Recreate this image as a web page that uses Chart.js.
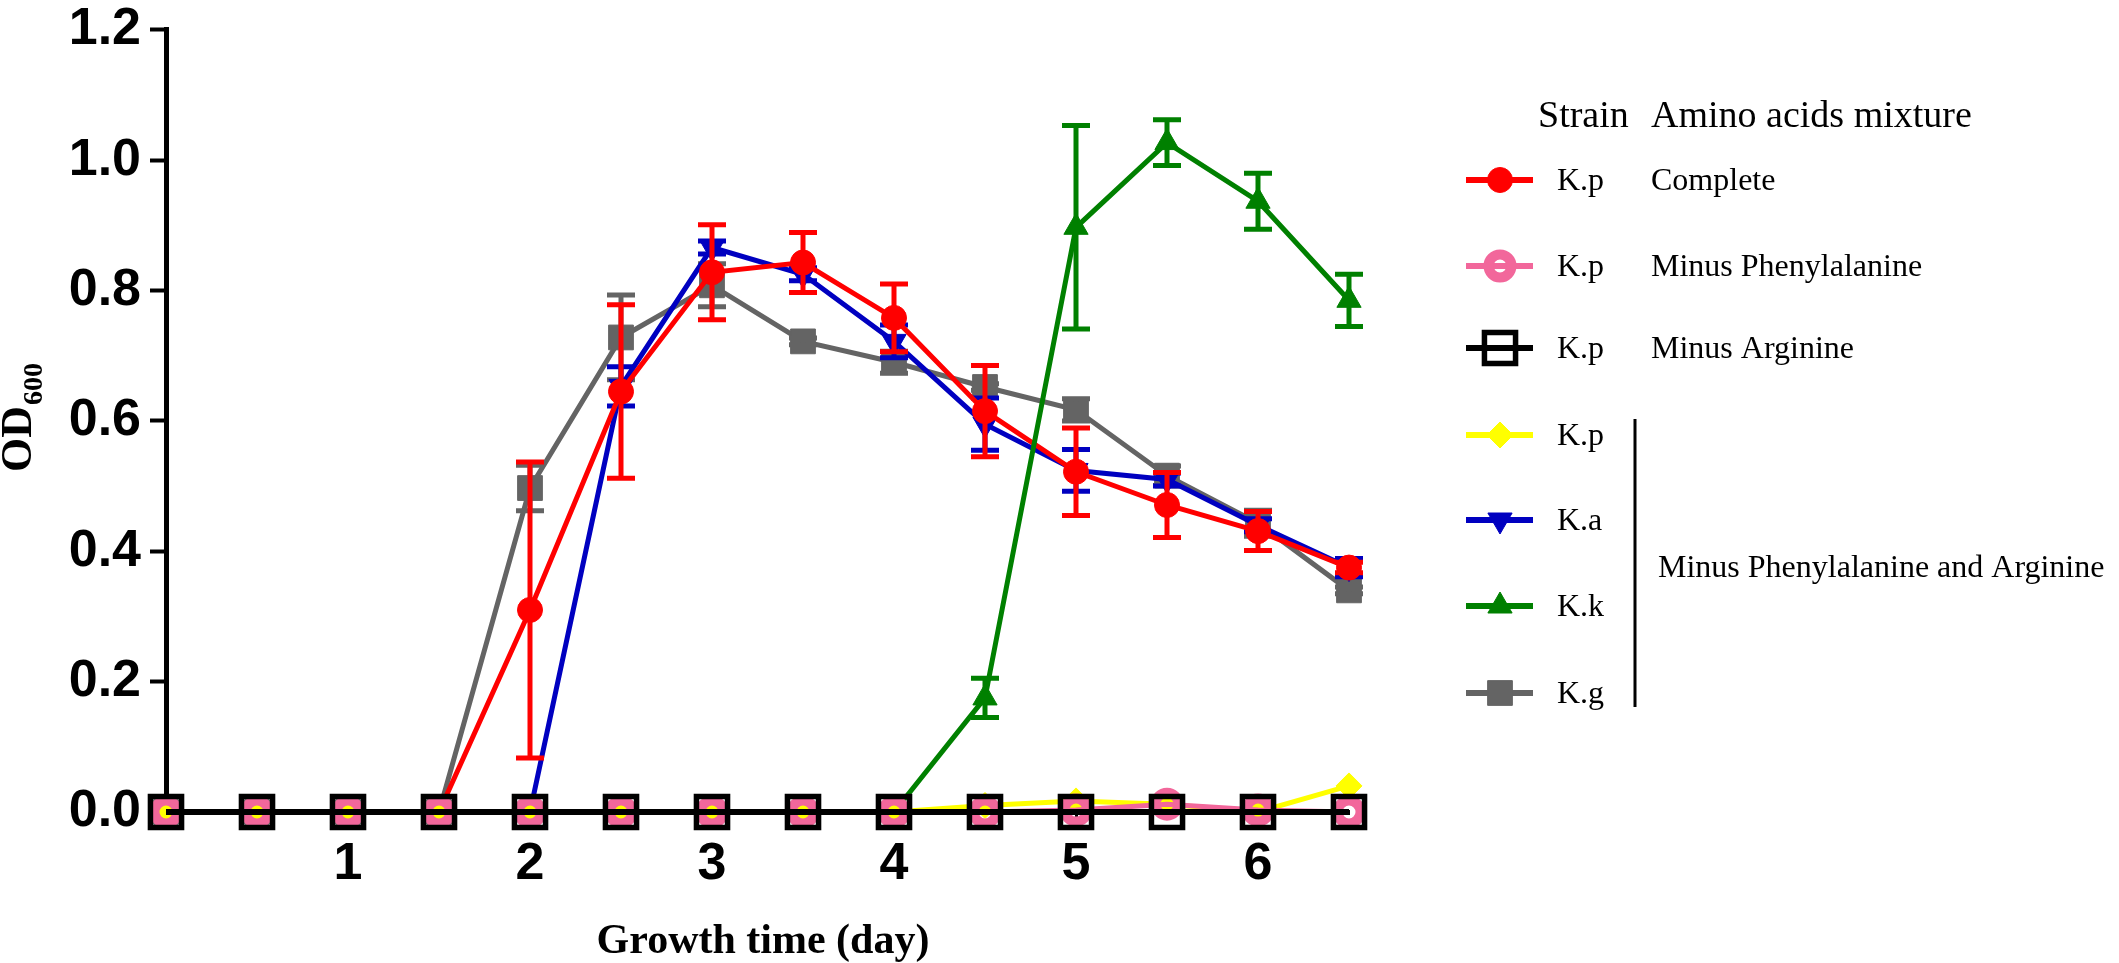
<!DOCTYPE html>
<html><head><meta charset="utf-8">
<script src="https://cdn.jsdelivr.net/npm/chart.js@4.4.1/dist/chart.umd.min.js"></script>
<style>html,body{margin:0;padding:0;background:#fff;overflow:hidden}canvas{display:block}</style>
</head><body>
<canvas id="c" width="2119" height="963" style="width:2119px;height:963px"></canvas>
<script>
// ---- data ----
const days = [0, 0.5, 1, 1.5, 2, 2.5, 3, 3.5, 4, 4.5, 5, 5.5, 6, 6.5];
const xTickValues = [1, 2, 3, 4, 5, 6];
const yTickValues = [0, 0.2, 0.4, 0.6, 0.8, 1.0, 1.2];

const kpComplete      = [0, 0, 0, 0, 0.310, 0.645, 0.828, 0.843, 0.758, 0.615, 0.522, 0.471, 0.431, 0.375];
const kpCompleteErr   = [0, 0, 0, 0, 0.227, 0.133, 0.073, 0.046, 0.052, 0.070, 0.067, 0.050, 0.030, 0.008];
const kpMinusPhe      = [0, 0, 0, 0, 0, 0, 0, 0, 0, 0, 0.003, 0.012, 0.003, 0];
const kpMinusArg      = [0, 0, 0, 0, 0, 0, 0, 0, 0, 0, 0, 0, 0, 0];
const kpMinusPheArg   = [0, 0, 0, 0, 0, 0, 0, 0, 0, 0.010, 0.017, 0.012, 0.000, 0.040];
const kaMinusPheArg   = [0, 0, 0, 0, 0, 0.653, 0.866, 0.825, 0.722, 0.595, 0.524, 0.510, 0.440, 0.375];
const kaMinusPheArgErr= [0, 0, 0, 0, 0, 0.030, 0.010, 0.010, 0.025, 0.040, 0.032, 0.010, 0.010, 0.014];
const kkMinusPheArg   = [0, 0, 0, 0, 0, 0, 0, 0, 0, 0.175, 0.897, 1.027, 0.937, 0.785];
const kkMinusPheArgErr= [0, 0, 0, 0, 0, 0, 0, 0, 0, 0.030, 0.156, 0.035, 0.043, 0.040];
const kgMinusPheArg   = [0, 0, 0, 0, 0.497, 0.728, 0.808, 0.722, 0.690, 0.652, 0.617, 0.516, 0.443, 0.340];
const kgMinusPheArgErr= [0, 0, 0, 0, 0.035, 0.065, 0.033, 0.005, 0.017, 0.005, 0.017, 0.015, 0.020, 0.005];

const seriesStrain  = ['K.p', 'K.p', 'K.p', 'K.p', 'K.a', 'K.k', 'K.g'];
const seriesMixture = ['Complete', 'Minus Phenylalanine', 'Minus Arginine', '', '', '', ''];
const legendHeader  = ['Strain', 'Amino acids mixture'];
const groupLabel    = 'Minus Phenylalanine and Arginine';
const xTitle = 'Growth time (day)';
const yTitleMain = 'OD', yTitleSub = '600';

// ---- build ----
const pts = arr => days.map((d, i) => ({x: d, y: arr[i]}));
function series(values, errs, color, style, radius, order, extra) {
  return Object.assign({
    data: pts(values), errors: errs,
    borderColor: color, backgroundColor: color, borderWidth: 5,
    pointStyle: style, pointRadius: radius, pointHoverRadius: radius,
    pointBackgroundColor: color, pointBorderColor: color, pointBorderWidth: 1,
    pointRotation: 0, order: order, clip: false, tension: 0
  }, extra || {});
}
const datasets = [
  series(kpComplete, kpCompleteErr, '#FF0000', 'circle', 12.5, 4),
  series(kpMinusPhe, null, '#F2679B', 'circle', 11.5, 1, {pointBackgroundColor: 'rgba(0,0,0,0)', pointBorderWidth: 10}),
  series(kpMinusArg, null, '#000000', 'rect', 22, 0, {borderWidth: 6, pointBackgroundColor: 'rgba(0,0,0,0)', pointBorderWidth: 5.5}),
  series(kpMinusPheArg, null, '#FFFF00', 'rectRot', 13, 2),
  series(kaMinusPheArg, kaMinusPheArgErr, '#0000C0', 'triangle', 14, 5, {pointRotation: 180}),
  series(kkMinusPheArg, kkMinusPheArgErr, '#008000', 'triangle', 14, 3),
  series(kgMinusPheArg, kgMinusPheArgErr, '#646464', 'rect', 17.5, 6)
];

const errorBars = {
  id: 'errorBars',
  afterDatasetDraw(chart, args) {
    const ds = chart.data.datasets[args.index];
    if (!ds.errors) return;
    const ctx = chart.ctx, xs = chart.scales.x, ys = chart.scales.y;
    ctx.save();
    ctx.strokeStyle = ds.borderColor; ctx.lineWidth = 5; ctx.lineCap = 'butt';
    ds.data.forEach((p, j) => {
      const e = ds.errors[j];
      if (!e) return;
      const px = xs.getPixelForValue(p.x);
      const t = ys.getPixelForValue(p.y + e), b = ys.getPixelForValue(p.y - e);
      ctx.beginPath();
      ctx.moveTo(px, t); ctx.lineTo(px, b);
      ctx.moveTo(px - 14, t); ctx.lineTo(px + 14, t);
      ctx.moveTo(px - 14, b); ctx.lineTo(px + 14, b);
      ctx.stroke();
    });
    ctx.restore();
  }
};

function marker(ctx, ds, x, y) {
  ctx.fillStyle = ds.pointBackgroundColor;
  ctx.strokeStyle = ds.pointBorderColor;
  ctx.lineWidth = ds.pointBorderWidth;
  Chart.helpers.drawPoint(ctx, {pointStyle: ds.pointStyle, rotation: ds.pointRotation, radius: ds.pointRadius, borderWidth: ds.pointBorderWidth}, x, y);
}

const decorations = {
  id: 'decorations',
  afterDraw(chart) {
    const ctx = chart.ctx;
    ctx.save();
    ctx.fillStyle = '#000';
    ctx.textBaseline = 'alphabetic';
    // x title
    ctx.font = 'bold 42px "Liberation Serif"';
    ctx.textAlign = 'center';
    ctx.fillText(xTitle, 763, 953);
    // y title (rotated, with subscript)
    ctx.save();
    ctx.translate(31, 472);
    ctx.rotate(-Math.PI / 2);
    ctx.textAlign = 'left';
    ctx.font = 'bold 44px "Liberation Serif"';
    ctx.fillText(yTitleMain, 0, 0);
    const w = ctx.measureText(yTitleMain).width;
    ctx.font = 'bold 28px "Liberation Serif"';
    ctx.fillText(yTitleSub, w + 1, 11);
    ctx.restore();
    // legend
    ctx.textAlign = 'left';
    ctx.font = '38px "Liberation Serif"';
    ctx.fillText(legendHeader[0], 1538, 127);
    ctx.fillText(legendHeader[1], 1651, 127);
    const rowY = [180, 266, 348, 435, 520, 606, 693];
    chart.data.datasets.forEach((ds, i) => {
      const y = rowY[i];
      ctx.strokeStyle = ds.borderColor; ctx.lineWidth = 6; ctx.lineCap = 'butt';
      ctx.beginPath(); ctx.moveTo(1466, y); ctx.lineTo(1533, y); ctx.stroke();
      marker(ctx, ds, 1500, y);
      ctx.fillStyle = '#000';
      ctx.font = '32px "Liberation Serif"';
      ctx.fillText(seriesStrain[i], 1557, y + 10);
      if (seriesMixture[i]) ctx.fillText(seriesMixture[i], 1651, y + 10);
    });
    ctx.strokeStyle = '#000'; ctx.lineWidth = 3;
    ctx.beginPath(); ctx.moveTo(1635, 419); ctx.lineTo(1635, 707); ctx.stroke();
    ctx.fillStyle = '#000';
    ctx.font = '32px "Liberation Serif"';
    ctx.fillText(groupLabel, 1658, 577);
    ctx.restore();
  }
};

const tickFont = {family: '"Liberation Sans", Arial, sans-serif', weight: 'bold', size: 52, lineHeight: 0.8};

new Chart(document.getElementById('c'), {
  type: 'line',
  data: {datasets: datasets},
  options: {
    responsive: false, devicePixelRatio: 1, animation: false, events: [],
    layout: {padding: {left: 0, top: 22, right: 770, bottom: 0}},
    plugins: {legend: {display: false}, tooltip: {enabled: false}, title: {display: false}},
    scales: {
      x: {
        type: 'linear', min: 0, max: 6.5,
        afterBuildTicks: s => { s.ticks = xTickValues.map(v => ({value: v})); },
        afterFit: s => { s.height = 151; },
        grid: {drawOnChartArea: false, drawTicks: true, tickLength: 12, tickWidth: 3, color: '#000'},
        border: {display: true, color: '#000', width: 5},
        ticks: {font: tickFont, color: '#000', padding: 20, maxRotation: 0, autoSkip: false, callback: v => String(v)}
      },
      y: {
        min: 0, max: 1.2,
        afterBuildTicks: s => { s.ticks = yTickValues.map(v => ({value: v})); },
        afterFit: s => { s.width = 166; },
        grid: {drawOnChartArea: false, drawTicks: true, tickLength: 16, tickWidth: 4, color: '#000'},
        border: {display: true, color: '#000', width: 5},
        ticks: {font: tickFont, color: '#000', padding: 9, callback: v => Number(v).toFixed(1)}
      }
    }
  },
  plugins: [errorBars, decorations]
});
</script>
</body></html>
